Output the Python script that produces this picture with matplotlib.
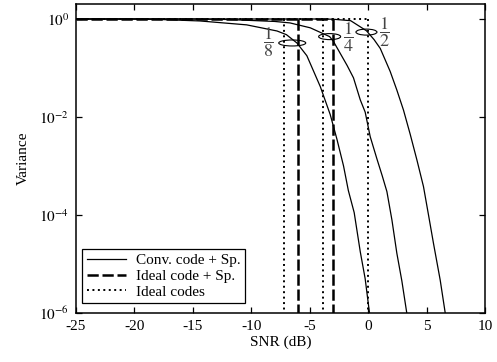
import matplotlib
matplotlib.use("Agg")
import matplotlib.pyplot as plt
import matplotlib.transforms as mtransforms
from matplotlib.patches import Ellipse

plt.rcParams['font.family'] = ['Liberation Serif', 'DejaVu Serif']
plt.rcParams['mathtext.fontset'] = 'stix'

# ---- data ----
snr_conv_8 = [-25, -20, -17.8, -14.4, -12.4, -10.4, -7.8, -7.0, -6.1, -5.25, -4.7, -4.1,
              -3.25, -2.68, -2.11, -1.7, -1.2, -0.68, -0.26, 0.11, 0.15]
var_conv_8 = [1.0, 1.0, 0.977, 0.912, 0.832, 0.759, 0.569, 0.479, 0.324, 0.178, 0.089, 0.0417,
              0.0112, 3.55e-3, 1.0e-3, 3.16e-4, 1.12e-4, 1.78e-5, 5.0e-6, 1.0e-6, 8e-7]

snr_conv_4 = [-25, -15, -12, -8, -6.7, -4.96, -3.3, -2.97, -2.4, -1.8, -1.26, -0.68, -0.26,
              0.17, 0.74, 1.2, 1.6, 2.03, 2.45, 2.88, 3.3, 3.35]
var_conv_4 = [1.0, 1.0, 0.977, 0.891, 0.832, 0.661, 0.437, 0.347, 0.2, 0.112, 0.063, 0.0224,
              0.0126, 3.98e-3, 1.41e-3, 6.3e-4, 3.0e-4, 7.9e-5, 1.66e-5, 4.5e-6, 1.0e-6, 8e-7]

snr_conv_2 = [-25, -4, -3, -1.5, -0.15, 0.5, 1.03, 1.88, 2.45, 3.02, 3.59, 4.17, 4.73,
              5.16, 5.59, 6.16, 6.59, 6.65]
var_conv_2 = [1.0, 1.0, 0.989, 0.923, 0.575, 0.38, 0.251, 0.0851, 0.0355, 0.0138, 4.47e-3,
              1.32e-3, 3.8e-4, 1.0e-4, 2.6e-5, 4.7e-6, 1.0e-6, 8e-7]

ideal_sp_thresholds = [-6.02, -3.01]          # Ideal code + Sp.
ideal_code_thresholds = [-7.23, -3.83, 0.0]   # Ideal codes
var_high = 1.0
var_low = 1e-7

rate_labels = [r'$\dfrac{1}{8}$', r'$\dfrac{1}{4}$', r'$\dfrac{1}{2}$']
ellipse_snr = [-6.5, -3.3, -0.15]
ellipse_var = [0.324, 0.437, 0.54]

xticks = [-25, -20, -15, -10, -5, 0, 5, 10]
yticks = [1e-6, 1e-4, 1e-2, 1e0]
ytick_labels = [r'$10^{-6}$', r'$10^{-4}$', r'$10^{-2}$', r'$10^{0}$']

# ---- figure ----
fig = plt.figure(figsize=(4.97, 3.62), dpi=100)
ax = fig.add_axes([0.153, 0.1354, 0.823, 0.8522])

lw_solid = 0.9
for s, v in [(snr_conv_8, var_conv_8), (snr_conv_4, var_conv_4), (snr_conv_2, var_conv_2)]:
    ax.plot(s, v, color='black', lw=lw_solid)

# ideal code + spreading (dashed)
dash_style = (0, (4.5, 1.5))
ax.plot([-25, max(ideal_sp_thresholds)], [var_high, var_high], color='black', lw=1.8,
        linestyle=dash_style)
for t in ideal_sp_thresholds:
    ax.plot([t, t], [var_high, var_low], color='black', lw=1.8, linestyle=dash_style)

# ideal codes (dotted)
dot_style = (0, (1, 1.8))
ax.plot([-25, max(ideal_code_thresholds)], [var_high, var_high], color='black', lw=1.4,
        linestyle=dot_style)
for t in ideal_code_thresholds:
    ax.plot([t, t], [var_high, var_low], color='black', lw=1.4, linestyle=dot_style)

# legend proxies
h1, = ax.plot([], [], color='black', lw=lw_solid, label='Conv. code + Sp.')
h2, = ax.plot([], [], color='black', lw=1.8, linestyle=dash_style, label='Ideal code + Sp.')
h3, = ax.plot([], [], color='black', lw=1.4, linestyle=dot_style, label='Ideal codes')

ax.set_yscale('log')
ax.set_xlim(-25, 10)
ax.set_ylim(1e-6, 10 ** 0.296)
ax.set_xticks(xticks)
ax.set_xticklabels([str(t) for t in xticks])
ax.set_yticks(yticks)
ax.set_yticklabels(ytick_labels)
ax.yaxis.set_minor_locator(matplotlib.ticker.NullLocator())
ax.tick_params(direction='in', top=True, right=True, length=4, width=0.9,
               labelsize=11, pad=5)
for sp in ax.spines.values():
    sp.set_linewidth(1.1)

ax.set_xlabel('SNR (dB)', fontsize=11, labelpad=2)
ax.set_ylabel('Variance', fontsize=11, labelpad=7)

# ellipses in display units around data centers
ell_w = [0.27, 0.22, 0.21]
for cx, cy, w in zip(ellipse_snr, ellipse_var, ell_w):
    tr = fig.dpi_scale_trans + mtransforms.ScaledTranslation(cx, cy, ax.transData)
    e = Ellipse((0, 0), w, 0.06, transform=tr, fill=False, edgecolor='black', lw=0.8)
    ax.add_artist(e)

# fraction labels
label_pos = [(-8.55, 0.33), (-1.7, 0.42), (1.4, 0.54)]
for (lx, ly), txt in zip(label_pos, rate_labels):
    ax.text(lx, ly, txt, fontsize=13, ha='center', va='center', color='#444444')

leg = ax.legend(handles=[h1, h2, h3], loc='lower left', bbox_to_anchor=(0.0147, 0.032),
                fontsize=11, frameon=True, fancybox=False, edgecolor='black', framealpha=1,
                borderaxespad=0, handlelength=2.6, handletextpad=0.6, labelspacing=0.12,
                borderpad=0.3)
leg.get_frame().set_linewidth(0.9)

fig.savefig('out.png', dpi=100)
